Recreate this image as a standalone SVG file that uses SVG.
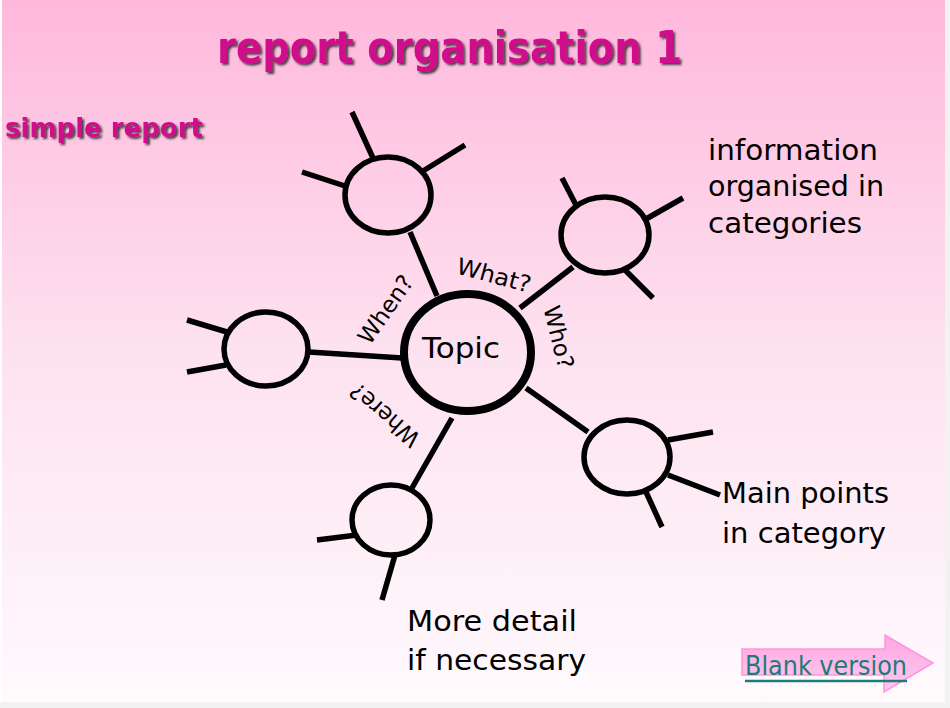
<svg xmlns="http://www.w3.org/2000/svg" width="950" height="708" viewBox="0 0 950 708">
<defs>
<linearGradient id="bg" x1="0" y1="0" x2="0" y2="1">
<stop offset="0" stop-color="#ffb8dc"/>
<stop offset="0.5" stop-color="#fde2ef"/>
<stop offset="1" stop-color="#fffafd"/>
</linearGradient>
<linearGradient id="arr" x1="0" y1="0" x2="0" y2="1">
<stop offset="0" stop-color="#ff9fe0"/>
<stop offset="1" stop-color="#ffc4ee"/>
</linearGradient>
<filter id="sh" x="-5%" y="-20%" width="110%" height="140%">
<feDropShadow dx="2" dy="2" stdDeviation="0.8" flood-color="#333" flood-opacity="0.9"/>
</filter>
</defs>
<style>
.ln{stroke:#000;stroke-width:5.5;stroke-linecap:butt;fill:none}
.nd{stroke:#000;stroke-width:5.5;fill:none}
.tp{stroke:#000;stroke-width:8;fill:none}
.tx{font-family:"DejaVu Sans","Liberation Sans",sans-serif;font-size:29px;fill:#000}
.lb{font-family:"DejaVu Sans","Liberation Sans",sans-serif;font-size:23px;fill:#000}
.ttl{font-family:"DejaVu Sans","Liberation Sans",sans-serif;font-weight:bold;fill:#d0108a;filter:url(#sh)}
</style>
<rect x="0" y="0" width="950" height="708" fill="url(#bg)"/>
<rect x="0" y="0" width="2" height="708" fill="#ffffff"/>
<rect x="945" y="0" width="5" height="708" fill="#f2f2f2"/>
<rect x="0" y="702" width="950" height="6" fill="#f2f2f2"/>

<text class="ttl" x="217" y="63" font-size="44" textLength="465" lengthAdjust="spacingAndGlyphs">report organisation 1</text>
<text class="ttl" x="5" y="137" font-size="27" textLength="198" lengthAdjust="spacingAndGlyphs">simple report</text>

<g id="connectors">
<line class="ln" x1="410" y1="232" x2="437" y2="296"/>
<line class="ln" x1="573" y1="267" x2="520" y2="308"/>
<line class="ln" x1="309" y1="352" x2="402" y2="358"/>
<line class="ln" x1="412" y1="488" x2="452" y2="418"/>
<line class="ln" x1="588" y1="432" x2="526" y2="388"/>
</g>

<g id="topic">
<ellipse class="tp" cx="467.5" cy="352.5" rx="63.5" ry="58.5"/>
<text class="tx" x="461" y="358" text-anchor="middle" font-size="31" textLength="78" lengthAdjust="spacingAndGlyphs">Topic</text>
<text class="lb" transform="translate(492,283) rotate(15)" text-anchor="middle" textLength="76" lengthAdjust="spacingAndGlyphs">What?</text>
<text class="lb" transform="translate(392,314) rotate(-55)" text-anchor="middle" textLength="78" lengthAdjust="spacingAndGlyphs">When?</text>
<text class="lb" transform="translate(551,339) rotate(76)" text-anchor="middle" textLength="64" lengthAdjust="spacingAndGlyphs">Who?</text>
<text class="lb" transform="translate(390,409) rotate(221)" text-anchor="middle" textLength="84" lengthAdjust="spacingAndGlyphs">Where?</text>
</g>

<g id="node-top-left">
<ellipse class="nd" cx="388" cy="195" rx="43" ry="38"/>
<line class="ln" x1="352" y1="112" x2="373" y2="158"/>
<line class="ln" x1="302" y1="172" x2="345" y2="186"/>
<line class="ln" x1="423" y1="171" x2="465" y2="145"/>
</g>

<g id="node-top-right">
<ellipse class="nd" cx="605" cy="235" rx="44" ry="38"/>
<line class="ln" x1="562" y1="178" x2="576" y2="205"/>
<line class="ln" x1="646" y1="219" x2="683" y2="198"/>
<line class="ln" x1="625" y1="270" x2="653" y2="298"/>
</g>

<g id="node-left">
<ellipse class="nd" cx="266" cy="349" rx="42" ry="37"/>
<line class="ln" x1="187" y1="320" x2="227" y2="332"/>
<line class="ln" x1="187" y1="372" x2="226" y2="365"/>
</g>

<g id="node-bottom">
<ellipse class="nd" cx="391" cy="520" rx="39" ry="35"/>
<line class="ln" x1="317" y1="540" x2="357" y2="535"/>
<line class="ln" x1="395" y1="555" x2="382" y2="600"/>
</g>

<g id="node-right">
<ellipse class="nd" cx="627" cy="457" rx="43" ry="37"/>
<line class="ln" x1="668" y1="440" x2="713" y2="432"/>
<line class="ln" x1="668" y1="475" x2="720" y2="495"/>
<line class="ln" x1="646" y1="492" x2="662" y2="527"/>
</g>

<g id="text-info">
<text class="tx" x="708" y="160" textLength="170" lengthAdjust="spacingAndGlyphs">information</text>
<text class="tx" x="708" y="196" textLength="176" lengthAdjust="spacingAndGlyphs">organised in</text>
<text class="tx" x="708" y="233" textLength="154" lengthAdjust="spacingAndGlyphs">categories</text>
</g>
<g id="text-main">
<text class="tx" x="722" y="503" textLength="167" lengthAdjust="spacingAndGlyphs">Main points</text>
<text class="tx" x="722" y="543" textLength="164" lengthAdjust="spacingAndGlyphs">in category</text>
</g>
<g id="text-detail">
<text class="tx" x="407" y="631" textLength="170" lengthAdjust="spacingAndGlyphs">More detail</text>
<text class="tx" x="407" y="670" textLength="179" lengthAdjust="spacingAndGlyphs">if necessary</text>
</g>

<g id="blank-version">
<path d="M742,649 L885,649 L885,635 L933,663 L884,692 L884,675 L742,675 Z" fill="url(#arr)" stroke="#ff8ad8" stroke-width="1.5" opacity="0.9"/>
<text x="745" y="675" font-family="DejaVu Sans,Liberation Sans,sans-serif" font-size="27" fill="#1d7b78" textLength="162" lengthAdjust="spacingAndGlyphs">Blank version</text>
<line x1="745" y1="681" x2="907" y2="681" stroke="#1d7b78" stroke-width="2.5"/>
</g>
</svg>
